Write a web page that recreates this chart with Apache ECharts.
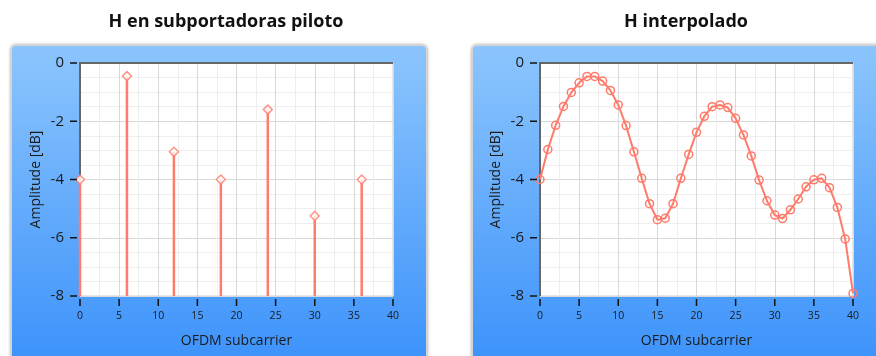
<!DOCTYPE html>
<html><head><meta charset="utf-8">
<script src="https://cdn.jsdelivr.net/npm/echarts@6/dist/echarts.min.js"></script>
<style>
html,body{margin:0;padding:0;background:#fff;overflow:hidden}
#wrap{position:relative;width:876px;height:356px}
.panel{position:absolute;top:44px;height:330px;border:2px solid #d3d3d3;border-radius:6px;box-sizing:border-box;
  background:linear-gradient(to bottom,#8cc5fd 0%,#3a91fb 100%);box-shadow:0 0 3px rgba(0,0,0,0.25)}
#p1{left:10px;width:418px}
#p2{left:471px;width:430px}
.c{position:absolute;top:0;width:438px;height:356px}
#c1{left:0}
#c2{left:438px}
</style>
</head><body><div id="wrap"><div class="panel" id="p1"></div><div class="panel" id="p2"></div>
<div class="c" id="c1"></div><div class="c" id="c2"></div></div>
<script>
// ---- data ----
var titles = ['H en subportadoras piloto', 'H interpolado'];
var xAxisName = 'OFDM subcarrier';
var yAxisName = 'Amplitude [dB]';
var pilotX = [0, 6, 12, 18, 24, 30, 36];
var pilotY = [-4.0, -0.45, -3.05, -4.0, -1.6, -5.25, -4.0];
var interpX = [0,1,2,3,4,5,6,7,8,9,10,11,12,13,14,15,16,17,18,19,20,21,22,23,24,25,26,27,28,29,30,31,32,33,34,35,36,37,38,39,40];
var interpY = [-4.0,-2.97,-2.14,-1.49,-1.01,-0.68,-0.46,-0.46,-0.62,-0.94,-1.44,-2.15,-3.05,-3.96,
               -4.83,-5.38,-5.33,-4.83,-3.96,-3.14,-2.38,-1.83,-1.50,-1.44,-1.53,-1.90,-2.47,-3.19,
               -4.02,-4.73,-5.22,-5.34,-5.04,-4.67,-4.25,-4.01,-3.96,-4.28,-4.96,-6.04,-7.91];
var xTickValues = [0, 5, 10, 15, 20, 25, 30, 35, 40];
var yTickValues = [0, -2, -4, -6, -8];
var xTicks = {min: 0, max: 40, interval: 5};
var yTicks = {min: -8, max: 0, interval: 2};

var RED = '#ff7b6b';
var FONT = '"Open Sans", "DejaVu Sans", sans-serif';

function zip(a, b) { return a.map(function (v, i) { return [v, b[i]]; }); }

// tick marks and dark top/left frame drawn through the axes' own coordinate system
function decorSeries() {
  return [
    {
      type: 'custom', clip: false, silent: true, z: 8,
      data: yTickValues.map(function (v) { return [xTicks.min, v]; }),
      renderItem: function (params, api) {
        var p = api.coord([api.value(0), api.value(1)]);
        return {type: 'line', shape: {x1: p[0] - 10, y1: p[1], x2: p[0] - 3, y2: p[1]},
                style: {stroke: '#111', lineWidth: 1.5}};
      }
    },
    {
      type: 'custom', clip: false, silent: true, z: 8,
      data: xTickValues.map(function (v) { return [v, yTicks.min]; }),
      renderItem: function (params, api) {
        var p = api.coord([api.value(0), api.value(1)]);
        return {type: 'line', shape: {x1: p[0], y1: p[1] + 3, x2: p[0], y2: p[1] + 10},
                style: {stroke: '#111', lineWidth: 1.5}};
      }
    },
    {
      type: 'custom', clip: false, silent: true, z: 2,
      data: [[xTicks.min, yTicks.min, xTicks.max, yTicks.max]],
      renderItem: function (params, api) {
        var a = api.coord([api.value(0), api.value(1)]);
        var b = api.coord([api.value(0), api.value(3)]);
        var c = api.coord([api.value(2), api.value(3)]);
        return {type: 'polyline', shape: {points: [a, b, c]},
                style: {stroke: '#666', lineWidth: 2, fill: null}};
      }
    }
  ];
}

function baseOption(title, gridLeft, titleX) {
  var gw = 313, gt = 63, gh = 233;
  return {
    animation: false,
    backgroundColor: 'transparent',
    title: {text: title, left: titleX, top: 8, textAlign: 'center',
            textStyle: {fontFamily: FONT, fontWeight: 'bold', fontSize: 18, color: '#111'}},
    grid: {left: gridLeft, top: gt, width: gw, height: gh, show: true, backgroundColor: '#fff',
           borderColor: '#cfcfcf', borderWidth: 1},
    graphic: [
      {type: 'text', x: gridLeft - 44, y: gt + gh / 2, rotation: Math.PI / 2, silent: true,
       style: {text: yAxisName, align: 'center', verticalAlign: 'middle', textAlign: 'center', textVerticalAlign: 'middle',
               font: '14px ' + FONT, fill: '#1a1a1a'}},
      {type: 'text', x: gridLeft + gw / 2, y: gt + gh + 45, silent: true,
       style: {text: xAxisName, align: 'center', verticalAlign: 'middle', textAlign: 'center', textVerticalAlign: 'middle',
               font: '14px ' + FONT, fill: '#1a1a1a'}}
    ],
    xAxis: {
      type: 'value', min: xTicks.min, max: xTicks.max, interval: xTicks.interval,
      axisLine: {show: false},
      axisTick: {show: false},
      axisLabel: {fontFamily: FONT, fontSize: 10.5, color: '#1a1a1a', margin: 15},
      splitLine: {show: true, lineStyle: {color: '#d9d9d9', width: 1}},
      minorTick: {show: false, splitNumber: 2},
      minorSplitLine: {show: true, lineStyle: {color: '#eeeeee', width: 1}}
    },
    yAxis: {
      type: 'value', min: yTicks.min, max: yTicks.max, interval: yTicks.interval,
      axisLine: {show: false},
      axisTick: {show: false},
      axisLabel: {fontFamily: FONT, fontSize: 15, color: '#1a1a1a', margin: 16},
      splitLine: {show: true, lineStyle: {color: '#d9d9d9', width: 1}},
      minorTick: {show: false, splitNumber: 4},
      minorSplitLine: {show: true, lineStyle: {color: '#eeeeee', width: 1}}
    }
  };
}

var chart1 = echarts.init(document.getElementById('c1'), null, {renderer: 'canvas'});
var opt1 = baseOption(titles[0], 80, 221);
opt1.series = decorSeries().concat([
  {
    type: 'custom', z: 6,
    data: zip(pilotX, pilotY),
    renderItem: function (params, api) {
      var top = api.coord([api.value(0), api.value(1)]);
      var bot = api.coord([api.value(0), yTicks.min]);
      return {type: 'line', shape: {x1: top[0], y1: top[1], x2: bot[0], y2: bot[1]},
              style: {stroke: RED, lineWidth: 2.5}};
    }
  },
  {
    type: 'scatter', z: 7,
    data: zip(pilotX, pilotY),
    symbol: 'diamond', symbolSize: 9,
    itemStyle: {color: '#ffffff', borderColor: RED, borderWidth: 1.5}
  }
]);
chart1.setOption(opt1);

var chart2 = echarts.init(document.getElementById('c2'), null, {renderer: 'canvas'});
var opt2 = baseOption(titles[1], 102, 243);
opt2.series = decorSeries().concat([
  {
    type: 'line', z: 6,
    data: zip(interpX, interpY),
    symbol: 'circle', symbolSize: 8, showAllSymbol: true,
    lineStyle: {color: RED, width: 2},
    itemStyle: {color: 'rgba(255,255,255,0)', borderColor: RED, borderWidth: 1.5}
  }
]);
chart2.setOption(opt2);
</script>
</body></html>
